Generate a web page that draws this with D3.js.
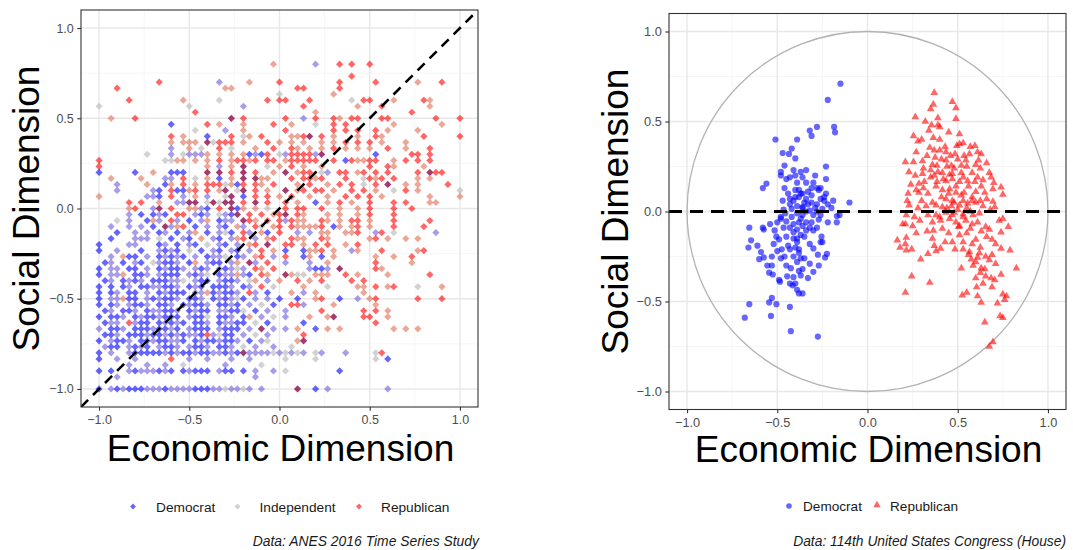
<!DOCTYPE html>
<html>
<head>
<meta charset="utf-8">
<script src="https://cdn.jsdelivr.net/npm/d3@7"></script>
<style>
  html, body { margin: 0; padding: 0; background: #ffffff; }
  svg { display: block; font-family: "Liberation Sans", Arial, Helvetica, sans-serif; }
</style>
</head>
<body>
<svg id="chart" width="1073" height="550"></svg>
<script>
// ---------------- data ----------------
const majorTicks = [-1.0, -0.5, 0.0, 0.5, 1.0];
const minorTicks = [-0.75, -0.25, 0.25, 0.75];
const anesLegend = ["Democrat", "Independent", "Republican"];
const houseLegend = ["Democrat", "Republican"];
const anesCaption = "Data: ANES 2016 Time Series Study";
const houseCaption = "Data: 114th United States Congress (House)";

// ANES 2016 respondents, scores binned to steps of 1/30.
// Each row: [social score * 30, cells for economic score * 30 = -30 .. 30],
// cells grouped by ten columns ("|").  Party ID code per cell:
// B strong Democrat, l leaning Democrat, g Independent, s leaning Republican,
// R strong Republican, p mixed Democrat/Republican cell.
const anesRows = [
  [24, "..........|..........|.........s|......l...|R.R..R....|..........|."],
  [22, "..........|..........|..........|..........|..R.......|..........|."],
  [21, "..........|R.........|l....s....|R.........|R.....R...|...s...R..|."],
  [20, "...R......|..........|.ss.......|...RR.....|R.........|..........|."],
  [19, "..........|..........|..........|g........s|..........|..........|."],
  [18, ".....R....|....s.....|g.......R.|RR...R....|..g.RR...s|....Rs....|."],
  [17, "g.........|.....g....|....l.....|....R.....|...s...R..|.....s....|."],
  [16, "..........|......R...|..........|......s...|..........|..R.......|."],
  [15, "..s...R...|..........|..p.R.....|.R..l.R..R|s.RR...RR.|......R...|R"],
  [14, "..........|..B.....R.|s...s....R|..s...g..R|.R.......s|.......s..|."],
  [13, "..........|......g...|.l..s.....|.R.......R|.R.R..R.s.|...s......|."],
  [12, "..........|..R.s...B.|..R.gs.R..|..ssRp.R.s|...s..Rs..|....R.....|R"],
  [11, "..........|..s.sss.pg|RRR.s...R.|s.s.s..s.s|.R.R.R.s..|.s........|."],
  [10, "..........|..l..s.g..|R.g...s..R|..Rs.s.s.R|.s.s.s..R.|.s...R....|."],
  [9,  "........g.|..l.gllls.|s.s.sBlBR.|glRRRRlp..|......B...|..RR.R....|."],
  [8,  "R.........|.ggss.s.s.|R.sRRsR.RR|.sRRRRR..R|.BRssRR..s|.R.R.R....|."],
  [7,  "R.........|........s.|l.s.p...g.|s.R.s..s..|.....R..Rs|....s.....|."],
  [6,  "B.....B..s|..BBB...p.|p.R.p.R..s|.p.sRR.gl.|RR.sR.R.R.|...R.pRR..|."],
  [5,  "..s....s..|.ll.R.g.s.|B.s.p.pss.|..R.RRsR..|.R..gRsR.R|...s.s....|."],
  [4,  "...l....s.|.Bs.R.s.RR|RgsBR.Rs.R|...s.R..s.|R.R.g.R.p.|.s.s....R.|."],
  [3,  "...l.....l|B.RBBsR.R.|sp.gp.R.s.|.p.sR.RR.s|..R.R.s..g|.R.s......|g"],
  [2,  "s.......ll|B.R.l.s.l.|.gp.B.R.R.|s.R..s..s.|.R.R.R.s..|.....s....|s"],
  [1,  ".....R.R..|s..llpp.gp|gpp.R.p.R.|.R.s..B.s.|R.s..R...R|.R...ss...|."],
  [0,  ".....sR..l|p.R..sslB.|R.pBs.s.g.|.R.RR..R..|s..s.R...R|..R.......|."],
  [-1, ".....l.B.B|lB.RR.lBl.|glBp.R.R.s|Rp.Rs...s.|s..s.R...R|..........|."],
  [-2, "...g.l..Bs|l.Rl.B.ls.|Bll.pRs.R.|RlRss..Rs.|s.RR.s...R|.....R....|."],
  [-3, "..l..l.l.B|.plsR.B.l.|lB.sl.Rg.s|R.RssssR.B|s.sR.s...R|....R.....|."],
  [-4, "...B..l.l.|Bl.B.ls.B.|lgB.Rl.sB.|R..l.l.ss.|.ssR..lR.g|......l...|."],
  [-5, "..B...lll.|g.B.lB.s.l|B.lsR.l.sR|..Rss..Rs.|.....sR.s.|.s.s......|."],
  [-6, "B....ll...|Bl.B.lB.g.|lB.l.sR.p.|.RR.s.R.R.|.s.R......|..........|."],
  [-7, "B..l...B..|lBlB.g.B.l|B.lB.l.R.s|.B..BssR.s|..ls...R..|...sR.....|."],
  [-8, "..l.sBB.l.|BlBlB.l.Bl|lg.Bl.sR.l|.R..Bs.B.s|......s..s|..R.......|."],
  [-9, ".Bl.B.lB.g|lBBl.Bs.lB|B.ls.pl.R.|.l...l..s.|......R...|..s.......|."],
  [-10, "B.ll.BB.l.|BlBBl.lBl.|lBlgl.Rs.R|.....lBBl.|p.....Rs..|..........|."],
  [-11, "B.lls.BBl.|lBBB.lBlg.|BllslB.Rs.|.psgg.sss.|.R.s....s.|.....R....|."],
  [-12, ".Bl.BlBl.B|BBllg.lBB.|lBBl.gs.l.|s..R.s.R..|..R.R.....|..........|."],
  [-13, "B.B.Bl.BBl|lBBl.BlB.B|BBl.Bl.R.g|....s...g.|...ss.R.sR|...g...s..|."],
  [-14, "B.Bl.BB.l.|BlBBB.llsB|lBBl.Rl.B.|..s.l.s...|....s.....|..........|."],
  [-15, "B.llsBB.lB|lBBl.BBl.B|lBlgB.l.l.|B..B..sR..|B..l.sR...|...R...R..|."],
  [-16, "B.Bl.lBBl.|BBl.BlBBl.|BBlB.l.g.B|..RRl....s|......s...|..........|."],
  [-17, ".Bl.BBl.Bl|lBBl.BlBB.|llBBg.B.l.|.l.....R..|....R.R.s.|..........|."],
  [-18, "B.BBl.BlBB|lBBB.lBBg.|BBl.Bs.l.g|.l...s..sp|....RR..s.|..........|."],
  [-19, ".Bll.RlBB.|BlBlB.BBl.|BllBB.g.B.|....B.....|......R...|..........|."],
  [-20, "l.BBl.BBBl|BBlB.lBBB.|lBBB.l.p.l|.l.s..B.s.|s........s|.s.s......|."],
  [-21, ".BBl.BBBlB|BlBlBllBRl|gBB.l.g.l.|....R.....|..........|..........|."],
  [-22, "B.lBBl.BBl|BBllB.BlBB|lBBl.B.lg.|...sp.....|..........|..........|."],
  [-23, ".lBB.lBlB.|lBBl.lBBl.|BBl.g.l..l|..g.......|..........|..........|."],
  [-24, "B.l..lBBBB|BlBlBBlBBl|lBlBpllllg|lglgl.gl..|.l....gR..|..........|."],
  [-25, "B..l..l...|..R..l..l.|..l..l....|.g....g...|......g.B.|..........|."],
  [-26, ".....l..l.|.l..g.....|.l.....g..|..........|..........|..........|."],
  [-27, "B.B..lBlll|BlB.BlBBB.|lBB.B.l..l|.g........|B.........|..........|."],
  [-28, "...l......|..........|......l...|..........|..........|..........|."],
  [-30, "B.lBlBBBll|lBllllBBBl|lgllgl.l..|...p..B.l.|........l.|..........|."]
];

// 114th House members: [economic, social]
const houseDem = [
  [-0.15,0.71],[-0.22,0.62],[-0.28,0.47],[-0.32,0.45],[-0.31,0.42],[-0.185,0.47],[-0.18,0.44],
  [-0.51,0.40],[-0.39,0.40],[-0.42,0.35],[-0.47,0.325],[-0.435,0.32],[-0.40,0.295],[-0.46,0.255],
  [-0.48,0.22],[-0.48,0.20],[-0.23,0.25],[-0.34,0.23],[-0.41,0.23],[-0.36,0.19],[-0.43,0.19],
  [-0.40,0.20],[-0.56,0.155],[-0.58,0.13],[-0.46,0.13],[-0.39,0.16],[-0.38,0.12],[-0.37,0.10],
  [-0.30,0.16],[-0.31,0.13],[-0.28,0.13],[-0.27,0.12],[-0.23,0.18],[-0.43,0.07],[-0.43,0.04],
  [-0.41,0.06],[-0.38,0.08],[-0.36,0.10],[-0.34,0.07],[-0.33,0.04],[-0.23,0.10],[-0.24,0.06],
  [-0.26,0.07],[-0.28,0.04],[-0.31,0.09],[-0.19,0.06],[-0.465,0.01],[-0.455,-0.01],[-0.42,0.015],
  [-0.39,-0.01],[-0.36,0.025],[-0.36,-0.02],[-0.32,0.005],[-0.30,-0.02],[-0.28,0.0],[-0.25,0.015],
  [-0.22,0.04],[-0.48,-0.03],[-0.50,-0.06],[-0.45,-0.055],[-0.41,-0.07],[-0.38,-0.06],[-0.34,-0.06],
  [-0.32,-0.09],[-0.30,-0.105],[-0.27,-0.045],[-0.17,-0.025],[-0.17,-0.06],[-0.655,-0.09],
  [-0.58,-0.09],[-0.575,-0.10],[-0.515,-0.105],[-0.465,-0.09],[-0.41,-0.115],[-0.39,-0.15],
  [-0.37,-0.13],[-0.34,-0.105],[-0.255,-0.14],[-0.25,-0.17],[-0.645,-0.16],[-0.61,-0.19],
  [-0.66,-0.20],[-0.59,-0.225],[-0.60,-0.265],[-0.575,-0.255],[-0.505,-0.14],[-0.49,-0.155],
  [-0.475,-0.21],[-0.48,-0.26],[-0.46,-0.25],[-0.43,-0.21],[-0.40,-0.20],[-0.39,-0.17],
  [-0.38,-0.21],[-0.53,-0.25],[-0.555,-0.30],[-0.53,-0.30],[-0.545,-0.34],[-0.525,-0.35],
  [-0.49,-0.38],[-0.485,-0.39],[-0.445,-0.36],[-0.425,-0.315],[-0.41,-0.365],[-0.39,-0.28],
  [-0.37,-0.26],[-0.36,-0.32],[-0.37,-0.355],[-0.40,-0.40],[-0.39,-0.435],[-0.38,-0.455],
  [-0.36,-0.455],[-0.415,-0.41],[-0.32,-0.29],[-0.30,-0.335],[-0.30,-0.205],[-0.275,-0.24],
  [-0.26,-0.17],[-0.235,-0.255],[-0.225,-0.235],[-0.53,-0.48],[-0.545,-0.505],[-0.505,-0.515],
  [-0.655,-0.515],[-0.68,-0.59],[-0.535,-0.58],[-0.43,-0.53],[-0.425,-0.665],[-0.275,-0.695],
  [-0.10,0.05],[-0.155,-0.02],[-0.44,0.10],[-0.40,0.08],[-0.35,0.05],[-0.33,0.11],[-0.39,0.03],
  [-0.42,-0.03],[-0.37,-0.04],[-0.34,0.0],[-0.29,0.02],[-0.26,-0.02],[-0.43,-0.09],[-0.39,-0.10],
  [-0.36,-0.08],[-0.31,-0.06],[-0.28,-0.09],[-0.45,-0.14],[-0.41,-0.15],[-0.35,-0.14],[-0.32,-0.18],
  [-0.44,-0.19],[-0.38,-0.23],[-0.35,-0.26],[-0.41,-0.25],[-0.45,-0.30],[-0.38,-0.33],[-0.50,-0.22],
  [-0.52,-0.18],[-0.47,0.06],[-0.31,0.05],[-0.24,0.08],[-0.20,0.02],[-0.22,-0.06],[-0.26,0.13],
  [-0.34,0.16],[-0.37,0.22],[-0.45,0.18],[-0.29,0.20],[-0.48,-0.04],[-0.54,-0.07],[-0.33,-0.37],
  [-0.43,-0.40],[-0.27,-0.30],[-0.40,0.12],[-0.36,0.02]
];

const houseRep = [
  [0.37,0.66],[0.47,0.61],[0.49,0.575],[0.365,0.595],[0.35,0.57],[0.265,0.525],[0.49,0.515],
  [0.32,0.50],[0.355,0.48],[0.39,0.48],[0.40,0.47],[0.34,0.45],[0.51,0.43],[0.255,0.42],
  [0.365,0.41],[0.28,0.39],[0.51,0.375],[0.495,0.365],[0.595,0.365],[0.345,0.355],[0.27,0.33],
  [0.40,0.34],[0.435,0.33],[0.485,0.32],[0.535,0.31],[0.565,0.32],[0.61,0.33],[0.63,0.32],
  [0.21,0.275],[0.255,0.275],[0.305,0.28],[0.375,0.30],[0.385,0.255],[0.435,0.285],[0.465,0.255],
  [0.52,0.255],[0.545,0.285],[0.615,0.285],[0.625,0.24],[0.35,0.23],[0.37,0.20],[0.415,0.215],
  [0.455,0.205],[0.52,0.215],[0.58,0.215],[0.675,0.215],[0.265,0.20],[0.305,0.21],[0.315,0.165],
  [0.285,0.155],[0.385,0.165],[0.435,0.17],[0.47,0.18],[0.51,0.165],[0.555,0.17],[0.595,0.165],
  [0.64,0.175],[0.685,0.19],[0.695,0.125],[0.74,0.135],[0.225,0.10],[0.285,0.105],[0.335,0.10],
  [0.415,0.12],[0.455,0.125],[0.49,0.105],[0.535,0.105],[0.60,0.11],[0.65,0.105],[0.75,0.095],
  [0.22,0.06],[0.435,0.07],[0.47,0.06],[0.53,0.06],[0.625,0.06],[0.695,0.055],[0.23,0.035],
  [0.28,0.02],[0.325,0.03],[0.38,0.035],[0.415,0.025],[0.465,0.03],[0.51,0.035],[0.555,0.045],
  [0.64,0.03],[0.705,0.025],[0.215,-0.02],[0.335,-0.02],[0.38,-0.02],[0.435,-0.005],[0.48,-0.005],
  [0.53,-0.015],[0.585,-0.02],[0.75,-0.04],[0.26,-0.03],[0.36,-0.06],[0.405,-0.05],[0.455,-0.04],
  [0.51,-0.08],[0.545,-0.05],[0.61,-0.06],[0.655,-0.085],[0.195,-0.07],[0.25,-0.08],[0.365,-0.105],
  [0.415,-0.095],[0.505,-0.085],[0.57,-0.095],[0.675,-0.10],[0.74,-0.115],[0.78,-0.085],
  [0.215,-0.145],[0.165,-0.16],[0.21,-0.18],[0.18,-0.20],[0.215,-0.215],[0.245,-0.21],
  [0.36,-0.15],[0.37,-0.19],[0.405,-0.205],[0.47,-0.17],[0.485,-0.21],[0.53,-0.17],[0.60,-0.155],
  [0.625,-0.20],[0.69,-0.155],[0.74,-0.205],[0.79,-0.215],[0.295,-0.265],[0.335,-0.235],
  [0.565,-0.225],[0.575,-0.265],[0.61,-0.255],[0.655,-0.25],[0.675,-0.27],[0.585,-0.30],
  [0.63,-0.315],[0.625,-0.34],[0.655,-0.36],[0.685,-0.37],[0.705,-0.38],[0.52,-0.315],
  [0.825,-0.315],[0.245,-0.36],[0.345,-0.395],[0.21,-0.45],[0.525,-0.465],[0.55,-0.45],
  [0.605,-0.42],[0.61,-0.47],[0.63,-0.505],[0.75,-0.46],[0.76,-0.49],[0.735,-0.58],[0.75,-0.59],
  [0.65,-0.615],[0.695,-0.725],[0.675,-0.75],
  [0.40,0.40],[0.43,0.36],[0.37,0.34],[0.46,0.31],[0.33,0.31],[0.41,0.29],[0.50,0.29],[0.36,0.26],
  [0.44,0.25],[0.48,0.24],[0.55,0.25],[0.60,0.26],[0.31,0.24],[0.39,0.22],[0.47,0.21],[0.53,0.19],
  [0.61,0.19],[0.35,0.19],[0.42,0.18],[0.49,0.14],[0.56,0.14],[0.63,0.14],[0.38,0.14],[0.45,0.10],
  [0.52,0.09],[0.58,0.08],[0.31,0.13],[0.41,0.08],[0.48,0.05],[0.55,0.02],[0.60,0.05],[0.66,0.07],
  [0.36,0.05],[0.30,0.06],[0.44,0.02],[0.50,0.01],[0.53,-0.03],[0.47,-0.02],[0.57,0.0],[0.62,-0.01],
  [0.68,0.01],[0.40,-0.03],[0.29,-0.05],[0.49,-0.06],[0.58,-0.07],[0.63,-0.11],[0.55,-0.12],
  [0.51,-0.13],[0.45,-0.12],[0.66,-0.14],[0.71,-0.18],[0.58,-0.18],[0.62,-0.23],[0.69,-0.24],
  [0.60,-0.28],[0.71,-0.29],[0.65,-0.32],[0.74,-0.35],[0.56,-0.24],[0.53,-0.21],[0.23,0.22],
  [0.27,0.12],[0.24,0.15],[0.57,0.36],[0.53,0.38],[0.45,0.44],[0.30,0.40],[0.39,0.52],[0.58,0.06],
  [0.70,0.16],[0.66,0.27],[0.33,-0.11],[0.27,-0.12],[0.21,-0.07],[0.43,-0.17],[0.38,-0.22],
  [0.73,-0.05],[0.69,-0.42],[0.64,-0.40],[0.77,-0.47],[0.60,-0.37],[0.72,-0.51]
];

// ---------------- styling ----------------
const partyFill = { B: "#0000ff", l: "#6c5cd8", g: "#b4b4b4", s: "#dc6e55", R: "#ff0000", p: "#8b0a4a" };
const partyAlpha = { B: 0.6, l: 0.6, g: 0.6, s: 0.6, R: 0.6, p: 0.8 };
const legendFill = { Democrat: "#0000ff", Independent: "#b4b4b4", Republican: "#ff0000" };
const pointAlpha = 0.6;

const svg = d3.select("#chart");

// Unpack the grid rows into individual respondents.
const anesPoints = [];
anesRows.forEach(([row, cells]) => {
  cells.split("|").forEach((group, k) => {
    for (let i = 0; i < group.length; i++) {
      const ch = group[i];
      if (ch === ".") continue;
      anesPoints.push({ x: (-30 + 10 * k + i) / 30, y: row / 30, code: ch });
    }
  });
});

// Common panel frame: grid, axes, titles
function drawPanel(g, x, y, opts) {
  const [x0, x1] = x.range();
  const [y1, y0] = y.range();
  const grid = g.append("g");
  grid.selectAll("line.vmin").data(minorTicks).join("line")
    .attr("x1", d => x(d)).attr("x2", d => x(d)).attr("y1", y0).attr("y2", y1)
    .attr("stroke", "#f2f2f2").attr("stroke-width", 0.7);
  grid.selectAll("line.hmin").data(minorTicks).join("line")
    .attr("y1", d => y(d)).attr("y2", d => y(d)).attr("x1", x0).attr("x2", x1)
    .attr("stroke", "#f2f2f2").attr("stroke-width", 0.7);
  grid.selectAll("line.vmaj").data(majorTicks).join("line")
    .attr("x1", d => x(d)).attr("x2", d => x(d)).attr("y1", y0).attr("y2", y1)
    .attr("stroke", "#e8e8e8").attr("stroke-width", 1.4);
  grid.selectAll("line.hmaj").data(majorTicks).join("line")
    .attr("y1", d => y(d)).attr("y2", d => y(d)).attr("x1", x0).attr("x2", x1)
    .attr("stroke", "#e8e8e8").attr("stroke-width", 1.4);

  const fmt = d3.format(".1f");
  const xa = g.append("g").attr("transform", `translate(0,${y1})`)
    .call(d3.axisBottom(x).tickValues(majorTicks).tickSize(3.7).tickPadding(opts.xPad).tickFormat(fmt));
  const ya = g.append("g").attr("transform", `translate(${x0},0)`)
    .call(d3.axisLeft(y).tickValues(majorTicks).tickSize(3.7).tickPadding(3.5).tickFormat(fmt));
  [xa, ya].forEach(a => {
    a.select(".domain").remove();
    a.selectAll(".tick line").attr("stroke", "#333333").attr("stroke-width", 1.1);
    a.selectAll(".tick text").attr("fill", "#4d4d4d")
      .style("font-size", opts.tickSize + "px")
      .style("font-family", '"Liberation Sans", Arial, sans-serif');
  });

  g.append("text").attr("x", (x0 + x1) / 2 + 1).attr("y", opts.xTitleY)
    .attr("text-anchor", "middle").attr("fill", "#000")
    .style("font-size", opts.titleSize + "px").text("Economic Dimension");
  g.append("text")
    .attr("transform", `translate(${opts.yTitleX},${(y0 + y1) / 2}) rotate(-90)`)
    .attr("text-anchor", "middle").attr("fill", "#000")
    .style("font-size", opts.titleSize + "px").text("Social Dimension");
}

function drawBorder(g, x, y) {
  const [x0, x1] = x.range();
  const [y1, y0] = y.range();
  g.append("rect").attr("x", x0).attr("y", y0).attr("width", x1 - x0).attr("height", y1 - y0)
    .attr("fill", "none").attr("stroke", "#333333").attr("stroke-width", 1.1);
}

// ---------------- left: ANES respondents ----------------
const xL = d3.scaleLinear().domain([-1.1, 1.1]).range([81, 478]);
const yL = d3.scaleLinear().domain([-1.1, 1.1]).range([407, 10]);
const gL = svg.append("g");
drawPanel(gL, xL, yL, { xPad: 4.3, tickSize: 12.5, titleSize: 37, xTitleY: 461, yTitleX: 38.5 });

svg.append("clipPath").attr("id", "clipL").append("rect")
  .attr("x", 81).attr("y", 10).attr("width", 397).attr("height", 397);

const diamond = d3.symbol().type(d3.symbolSquare).size(26)();
gL.append("g").selectAll("path").data(anesPoints).join("path")
  .attr("d", diamond)
  .attr("transform", d => `translate(${xL(d.x)},${yL(d.y)}) rotate(45)`)
  .attr("fill", d => partyFill[d.code]).attr("fill-opacity", d => partyAlpha[d.code]);

gL.append("line")
  .attr("clip-path", "url(#clipL)")
  .attr("x1", xL(-1.1)).attr("y1", yL(-1.1)).attr("x2", xL(1.1)).attr("y2", yL(1.1))
  .attr("stroke", "#000").attr("stroke-width", 2.6).attr("stroke-dasharray", "10,7");
drawBorder(gL, xL, yL);

// legend + caption
const legL = gL.append("g");
const legLX = { Democrat: [133, 156], Independent: [237.5, 259.5], Republican: [359, 381] };
anesLegend.forEach(name => {
  const [kx, tx] = legLX[name];
  legL.append("path").attr("d", d3.symbol().type(d3.symbolSquare).size(17)())
    .attr("transform", `translate(${kx},506.5) rotate(45)`)
    .attr("fill", legendFill[name]).attr("fill-opacity", pointAlpha);
  legL.append("text").attr("x", tx).attr("y", 511.5).attr("fill", "#1a1a1a")
    .style("font-size", "13.7px").text(name);
});
gL.append("text").attr("x", 479).attr("y", 546).attr("text-anchor", "end")
  .attr("fill", "#1a1a1a").style("font-size", "13.9px").style("font-style", "italic")
  .text(anesCaption);

// ---------------- right: House members ----------------
const xR = d3.scaleLinear().domain([-1.1, 1.1]).range([669, 1066]);
const yR = d3.scaleLinear().domain([-1.1, 1.1]).range([409.5, 13.5]);
const gR = svg.append("g");
drawPanel(gR, xR, yR, { xPad: 4.6, tickSize: 12.8, titleSize: 37, xTitleY: 462, yTitleX: 627.5 });

gR.append("ellipse")
  .attr("cx", xR(0)).attr("cy", yR(0))
  .attr("rx", xR(1) - xR(0)).attr("ry", yR(0) - yR(1))
  .attr("fill", "none").attr("stroke", "#b3b3b3").attr("stroke-width", 1.3);

gR.append("g").selectAll("circle").data(houseDem).join("circle")
  .attr("cx", d => xR(d[0])).attr("cy", d => yR(d[1])).attr("r", 3.1)
  .attr("fill", "#0000ff").attr("fill-opacity", pointAlpha);

const tri = d3.symbol().type(d3.symbolTriangle).size(26)();
gR.append("g").selectAll("path").data(houseRep).join("path")
  .attr("d", tri)
  .attr("transform", d => `translate(${xR(d[0])},${yR(d[1])})`)
  .attr("fill", "#ff0000").attr("fill-opacity", pointAlpha);

gR.append("line")
  .attr("x1", xR(-1.1)).attr("x2", xR(1.1)).attr("y1", yR(0)).attr("y2", yR(0))
  .attr("stroke", "#000").attr("stroke-width", 2.8).attr("stroke-dasharray", "13,8");
drawBorder(gR, xR, yR);

const legR = gR.append("g");
legR.append("circle").attr("cx", 789).attr("cy", 506).attr("r", 2.8)
  .attr("fill", "#0000ff").attr("fill-opacity", pointAlpha);
legR.append("text").attr("x", 803).attr("y", 511).attr("fill", "#1a1a1a")
  .style("font-size", "13.6px").text(houseLegend[0]);
legR.append("path").attr("d", d3.symbol().type(d3.symbolTriangle).size(24)())
  .attr("transform", "translate(877,505)")
  .attr("fill", "#ff0000").attr("fill-opacity", pointAlpha);
legR.append("text").attr("x", 890).attr("y", 511).attr("fill", "#1a1a1a")
  .style("font-size", "13.6px").text(houseLegend[1]);
gR.append("text").attr("x", 1066).attr("y", 545.5).attr("text-anchor", "end")
  .attr("fill", "#1a1a1a").style("font-size", "13.8px").style("font-style", "italic")
  .text(houseCaption);
</script>
</body>
</html>
